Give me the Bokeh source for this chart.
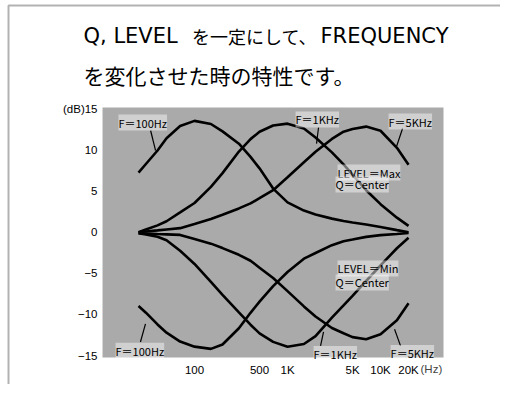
from bokeh.plotting import figure
from bokeh.models import Range1d, FixedTicker, Label, BoxAnnotation, Arrow
from bokeh.embed import file_html
from bokeh.resources import INLINE

# ---------------- data ----------------
freq_hz = [25, 30, 40, 50, 70, 100, 150, 200, 300, 400, 500, 700,
           1000, 1500, 2000, 3000, 4000, 5000, 7000, 10000, 15000, 20000]

boost_100hz = [7.25, 8.29, 9.93, 11.42, 12.9, 13.53, 13.15, 12.25, 10.75, 9.15, 7.76, 5.3,
               3.63, 2.63, 2.16, 1.65, 1.35, 1.18, 0.93, 0.62, 0.25, 0.0]
boost_1khz = [0.0, 0.33, 0.83, 1.33, 2.4, 3.55, 5.51, 7.18, 9.8, 11.31, 12.2, 12.96,
              13.19, 12.6, 11.5, 9.7, 8.25, 7.0, 5.1, 3.41, 1.77, 0.77]
boost_5khz = [0.0, 0.09, 0.22, 0.33, 0.49, 1.0, 1.61, 2.12, 2.89, 3.5, 4.13, 5.1,
              6.68, 8.5, 9.78, 11.33, 12.22, 12.53, 12.83, 12.33, 10.25, 8.19]
cut_100hz = [-8.98, -9.78, -11.21, -12.21, -13.29, -13.91, -14.18, -13.65, -11.67, -9.8, -8.44, -6.56,
             -4.84, -3.22, -2.53, -1.58, -1.1, -0.89, -0.57, -0.36, -0.22, -0.1]
cut_1khz = [-0.11, -0.28, -0.55, -0.97, -2.25, -3.86, -6.03, -7.61, -9.74, -11.24, -12.29, -13.33,
            -13.92, -13.59, -12.63, -10.38, -8.9, -7.74, -5.93, -4.03, -1.95, -0.68]
cut_5khz = [-0.11, -0.15, -0.22, -0.26, -0.33, -0.82, -1.39, -1.93, -2.75, -3.47, -4.31, -5.57,
            -7.16, -9.02, -10.24, -11.64, -12.28, -12.75, -13.01, -12.41, -10.7, -8.64]

x_ticks = [100, 500, 1000, 5000, 10000, 20000]
x_tick_labels = ["100", "500", "1K", "5K", "10K", "20K"]
y_ticks = [-15, -10, -5, 0, 5, 10, 15]
y_tick_labels = ["\u221215", "\u221210", "\u22125", "0", "5", "10", "(dB)15"]
x_unit = "(Hz)"

# inner (grey) chart area in data units
x_lo, x_hi = 10.25, 47540
y_lo, y_hi = -15.227, 15.154

title_parts = ["Q, LEVEL", "を一定にして、", "FREQUENCY"]
title_line2 = "を変化させた時の特性です。"
curve_labels = ["F＝100Hz", "F＝1KHz", "F＝5KHz", "F＝100Hz", "F＝1KHz", "F＝5KHz"]
level_labels = ["LEVEL＝Max", "Q＝Center", "LEVEL＝Min", "Q＝Center"]

# ---------------- figure: frame = whole card, axes fixed at the grey area ----------------
p = figure(width=500, height=384, x_axis_type="log", title=None,
           x_range=Range1d(0.820, 194900), y_range=Range1d(-18.508, 28.156),
           output_backend="svg", toolbar_location=None,
           min_border_left=0, min_border_right=0, min_border_top=0, min_border_bottom=0)
p.background_fill_color = "white"
p.border_fill_color = "white"
p.outline_line_color = None
p.grid.visible = False

p.add_layout(BoxAnnotation(left=x_lo, right=x_hi, bottom=y_lo, top=y_hi,
                           fill_color="#aaaaaa", fill_alpha=1.0, line_color=None,
                           level="underlay"))

for ys in [boost_100hz, boost_1khz, boost_5khz, cut_100hz, cut_1khz, cut_5khz]:
    p.line(freq_hz, ys, line_color="black", line_width=2.6)

p.xaxis.ticker = FixedTicker(ticks=x_ticks, minor_ticks=[])
p.xaxis.major_label_overrides = {t: s for t, s in zip(x_ticks, x_tick_labels)}
p.yaxis.ticker = FixedTicker(ticks=y_ticks, minor_ticks=[])
p.yaxis.major_label_overrides = {t: s for t, s in zip(y_ticks, y_tick_labels)}
p.xaxis.fixed_location = y_lo
p.yaxis.fixed_location = x_lo
for ax in (p.xaxis[0], p.yaxis[0]):
    ax.axis_line_color = None
    ax.major_tick_line_color = None
    ax.minor_tick_line_color = None
    ax.major_tick_out = 0
    ax.major_tick_in = 0
    ax.minor_tick_out = 0
    ax.minor_tick_in = 0
    ax.major_label_text_font = "Liberation Sans"
    ax.major_label_text_font_size = "11.5px"
    ax.major_label_text_color = "black"
p.xaxis.major_label_standoff = 6
p.yaxis.major_label_standoff = 5

p.add_layout(Label(x=26900, y=-16.68, text=x_unit, text_font="Liberation Sans",
                   text_font_size="11.5px", text_baseline="middle", text_align="left"))

# title
title_pos = [(6.40, "DejaVu Sans", "21px"), (94.0, "Noto Sans CJK JP", "18px"),
             (2263, "DejaVu Sans", "21px")]
for txt, (tx, fnt, fs) in zip(title_parts, title_pos):
    p.add_layout(Label(x=tx, y=23.90, text=txt, text_font=fnt, text_font_size=fs,
                       text_baseline="middle", text_align="left", text_color="black"))
p.add_layout(Label(x=6.40, y=19.16, text=title_line2,
                   text_font="Noto Sans CJK JP", text_font_size="21px",
                   text_baseline="middle", text_align="left", text_color="black"))

# curve annotations
curve_label_pos = [(15.2, 13.33), (1219, 13.70), (12190, 13.45),
                   (14.15, -14.42), (1904, -14.79), (12820, -14.67)]
pointer_pos = [((33.7, 12.36), (38.1, 9.93)),
               ((2153, 12.72), (2051, 10.77)),
               ((17250, 12.60), (14860, 10.42)),
               ((26.2, -13.34), (29.7, -11.15)),
               ((2265, -13.82), (2439, -12.12)),
               ((16410, -13.82), (14150, -11.79))]
for (start, end) in pointer_pos:
    p.add_layout(Arrow(end=None, x_start=start[0], y_start=start[1],
                       x_end=end[0], y_end=end[1], line_color="black", line_width=1.2))
for txt, (lx, ly) in zip(curve_labels, curve_label_pos):
    p.add_layout(Label(x=lx, y=ly, text=txt, text_font="Noto Sans CJK JP",
                       text_font_size="11px", text_baseline="middle", text_align="left",
                       text_color="black", background_fill_color="white",
                       background_fill_alpha=0.45))

level_pos = [(3448, 7.25), (3281, 5.80), (3448, -4.41), (3281, -6.11)]
for txt, (lx, ly) in zip(level_labels, level_pos):
    p.add_layout(Label(x=lx, y=ly, text=txt, text_font="Noto Sans CJK JP",
                       text_font_size="11px", text_baseline="middle", text_align="left",
                       text_color="black", background_fill_color="white",
                       background_fill_alpha=0.45))

# card frame rules (left and top)
p.add_layout(BoxAnnotation(left=1.0, right=1e7, top=27.55, bottom=-40,
                           fill_color=None, line_color="black", line_width=2))

open("out.html", "w").write(file_html(p, INLINE))
